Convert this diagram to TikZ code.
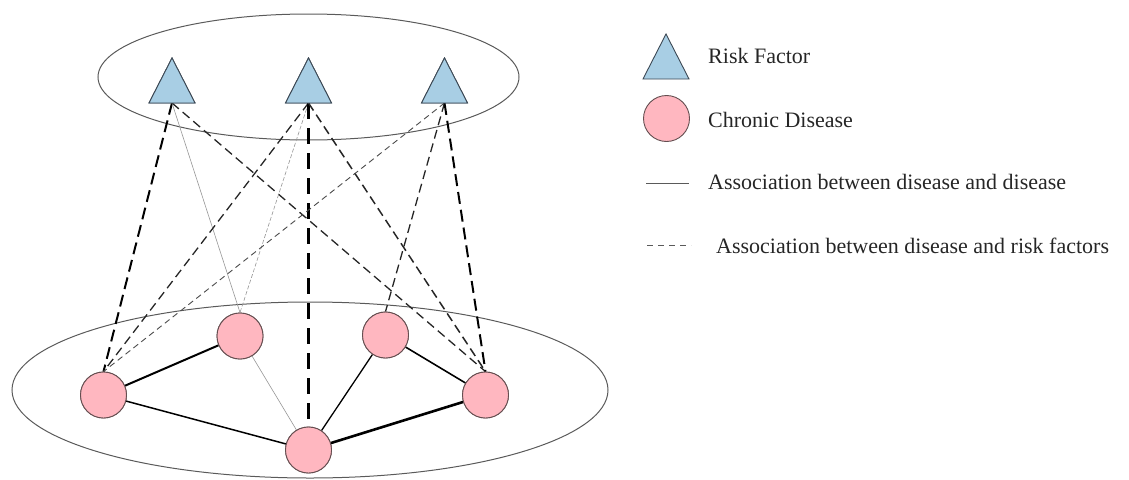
\documentclass[tikz,border=0pt]{standalone}
\usepackage{fontspec}
\setmainfont{Liberation Serif}
\definecolor{trifill}{RGB}{168,206,228}
\definecolor{tristroke}{RGB}{60,72,84}
\definecolor{circfill}{RGB}{255,183,192}
\definecolor{circstroke}{RGB}{100,78,80}
\definecolor{ellcol}{RGB}{90,90,90}
\definecolor{faint}{RGB}{150,150,150}
\newcommand\rtri[3]{%
  \filldraw[tri] (#2,#3) -- ++(-23,45) -- ++(46,0) -- cycle;
  \coordinate (#1) at (#2,#3+45);}
\begin{document}
\begin{tikzpicture}[x=1pt,y=-1pt,
  dis/.style={circle, draw=circstroke, fill=circfill, minimum size=46pt, inner sep=0pt, line width=0.9pt},
  tri/.style={draw=tristroke, fill=trifill, line width=0.9pt, line join=miter},
  ell/.style={draw=ellcol, line width=1pt},
  lbl/.style={anchor=base west, inner sep=0pt, font=\fontsize{22}{26}\selectfont, text=black!85},
  rthick/.style={draw=black, line width=3pt, dash pattern=on 16pt off 9pt},
  rbold/.style={draw=black, line width=2pt, dash pattern=on 12pt off 6pt},
  rmed/.style={draw=black!85, line width=1.3pt, dash pattern=on 9pt off 5pt},
  rthin/.style={draw=black!70, line width=0.9pt, dash pattern=on 6pt off 4pt},
  rfaint/.style={draw=faint, line width=0.6pt, dash pattern=on 4pt off 2pt},
  dfaint/.style={draw=faint, line width=0.6pt},
  dline/.style={draw=black, line width=#1},
  dline/.default=1.4pt]
\useasboundingbox (0,0) rectangle (1129,479);

% layers (ellipses)
\draw[ell] (308.5,77) ellipse [x radius=210.5, y radius=63];
\draw[ell] (310,390) ellipse [x radius=298, y radius=88];

% risk factors
\rtri{t1}{172}{58}
\rtri{t2}{308.5}{58}
\rtri{t3}{444.5}{58}

% diseases
\node[dis] (c1) at (103.5,395) {};
\node[dis] (c2) at (240,336) {};
\node[dis] (c3) at (308.5,450) {};
\node[dis] (c4) at (385.5,335) {};
\node[dis] (c5) at (485.5,395) {};

% disease -- risk factor associations
\begin{scope}[on background layer/.style={}]
\draw[rbold] (t1) -- (c1.north);
\draw[dfaint] (t1) -- (c2.north);
\draw[rmed] (t1) -- (c5.north);
\draw[rmed] (t2) -- (c1.north);
\draw[rfaint] (t2) -- (c2.north);
\draw[rthick] (t2) -- (c3.north);
\draw[rmed, line width=1.5pt] (t2) -- (c5.north);
\draw[rthin] (t3) -- (c1.north);
\draw[rmed] (t3) -- (c4.north);
\draw[rbold] (t3) -- (c5.north);
\end{scope}

% disease -- disease associations
\draw[dline=2pt] (c1) -- (c2);
\draw[dline=1.5pt] (c1) -- (c3);
\draw[dfaint] (c2) -- (c3);
\draw[dline=1.3pt] (c3) -- (c4);
\draw[dline=1.6pt] (c4) -- (c5);
\draw[dline=2.6pt] (c3) -- (c5);

% redraw shapes on top
\rtri{t1b}{172}{58}
\rtri{t2b}{308.5}{58}
\rtri{t3b}{444.5}{58}
\node[dis] at (c1) {};
\node[dis] at (c2) {};
\node[dis] at (c3) {};
\node[dis] at (c4) {};
\node[dis] at (c5) {};

% legend
\rtri{lt}{666}{34}
\node[dis] (lc) at (666.5,118.5) {};
\coordinate (ls1) at (646,183);
\coordinate (ls2) at (689,183);
\draw[draw=ellcol, line width=1pt] (ls1) -- (ls2);
\coordinate (ld1) at (647,245);
\coordinate (ld2) at (691,245);
\draw[draw=ellcol, line width=1pt, dash pattern=on 6pt off 5pt] (ld1) -- (ld2);
\node[lbl] (l1) at (708,63) {Risk Factor};
\node[lbl] (l2) at (708,127) {Chronic Disease};
\node[lbl] (l3) at (708,189) {Association between disease and disease};
\node[lbl] (l4) at (716,253) {Association between disease and risk factors};
\end{tikzpicture}
\end{document}
